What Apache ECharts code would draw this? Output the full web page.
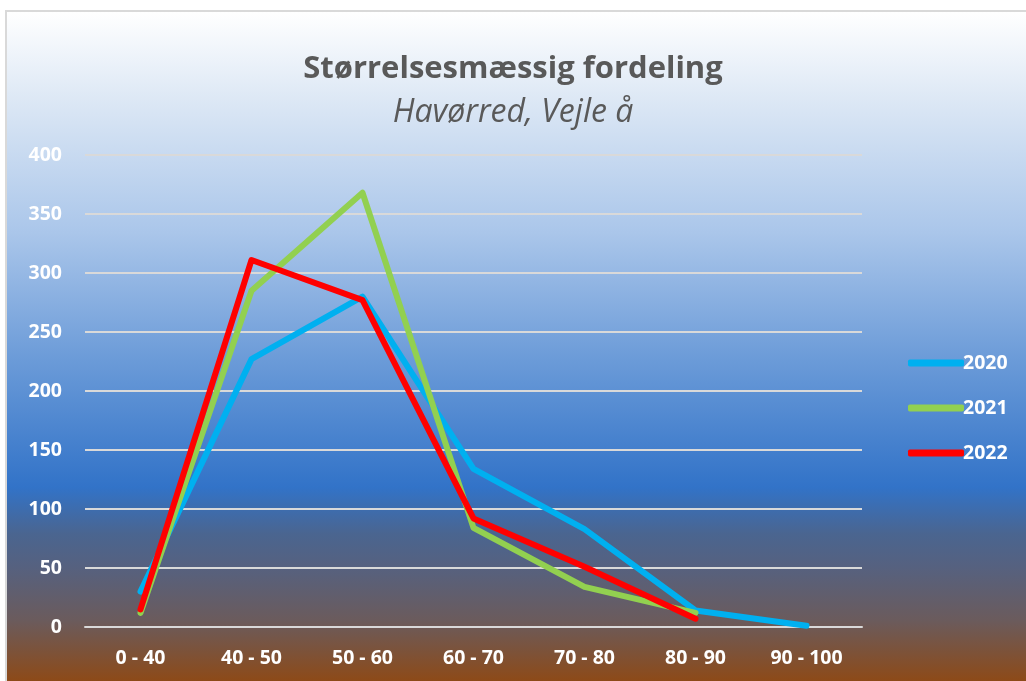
<!DOCTYPE html>
<html>
<head>
<meta charset="utf-8">
<script src="https://cdn.jsdelivr.net/npm/echarts@6/dist/echarts.min.js"></script>
<style>
html,body{margin:0;padding:0;background:#fff;}
#bg{position:absolute;left:5px;top:10px;width:1021px;height:671px;box-sizing:border-box;border-left:2px solid #d9d9d9;border-top:2px solid #d9d9d9;
background:linear-gradient(to bottom,#ffffff 0%,#dde8f5 13%,#aac6ea 33%,#6e9dd9 51%,#3273c8 71%,#4a6590 78%,#56617f 83%,#6b5b5c 91%,#8d4a18 100%);}
#chart{position:absolute;left:0;top:0;width:1026px;height:681px;}
</style>
</head>
<body>
<div id="bg"></div>
<div id="chart"></div>
<script>
const categories = ['0 - 40','40 - 50','50 - 60','60 - 70','70 - 80','80 - 90','90 - 100'];
const s2020 = [30, 227, 280, 134, 83, 14, 1];
const s2021 = [12, 285, 368, 84, 34, 12, null];
const s2022 = [15, 311, 277, 92, 51, 7, null];
const yTicks = {min: 0, max: 400, interval: 50};

const chart = echarts.init(document.getElementById('chart'));
const font = '"Open Sans", "Noto Sans", sans-serif';
function line(name, data, color){
  return {name, type:'line', data, symbol:'none', smooth:false, connectNulls:false,
    lineStyle:{width:6, color, cap:'round', join:'round'}, itemStyle:{color}};
}
chart.setOption({
  backgroundColor:'transparent',
  title:[
    {text:'Størrelsesmæssig fordeling', left:'center', top:49,
     textStyle:{fontFamily:font, fontSize:31, fontWeight:'bold', color:'#595959'}},
    {text:'Havørred, Vejle å', left:'center', top:92,
     textStyle:{fontFamily:font, fontSize:32, fontStyle:'italic', fontWeight:'normal', color:'#595959'}}
  ],
  legend:{orient:'vertical', left:903, top:348, itemWidth:56, itemHeight:7, itemGap:25,
    icon:'roundRect',
    textStyle:{fontFamily:font, fontSize:19.5, fontWeight:'bold', color:'#ffffff', padding:[0,0,0,-6]},
    data:['2020','2021','2022']},
  grid:{left:85, right:164, top:155, bottom:54, containLabel:false},
  xAxis:{type:'category', data:categories, boundaryGap:true,
    axisLine:{show:true, lineStyle:{color:'#d9d9d9', width:2}},
    axisTick:{show:false},
    axisLabel:{color:'#ffffff', fontFamily:font, fontSize:19.5, fontWeight:'bold', margin:21}},
  yAxis:{type:'value', min:yTicks.min, max:yTicks.max, interval:yTicks.interval,
    axisLine:{show:false}, axisTick:{show:false},
    splitLine:{lineStyle:{color:'#d9d9d9', width:2}},
    axisLabel:{color:'#ffffff', fontFamily:font, fontSize:19.5, fontWeight:'bold', margin:23}},
  series:[line('2020', s2020, '#00b0f0'), line('2021', s2021, '#92d050'), line('2022', s2022, '#ff0000')]
});
</script>
</body>
</html>
